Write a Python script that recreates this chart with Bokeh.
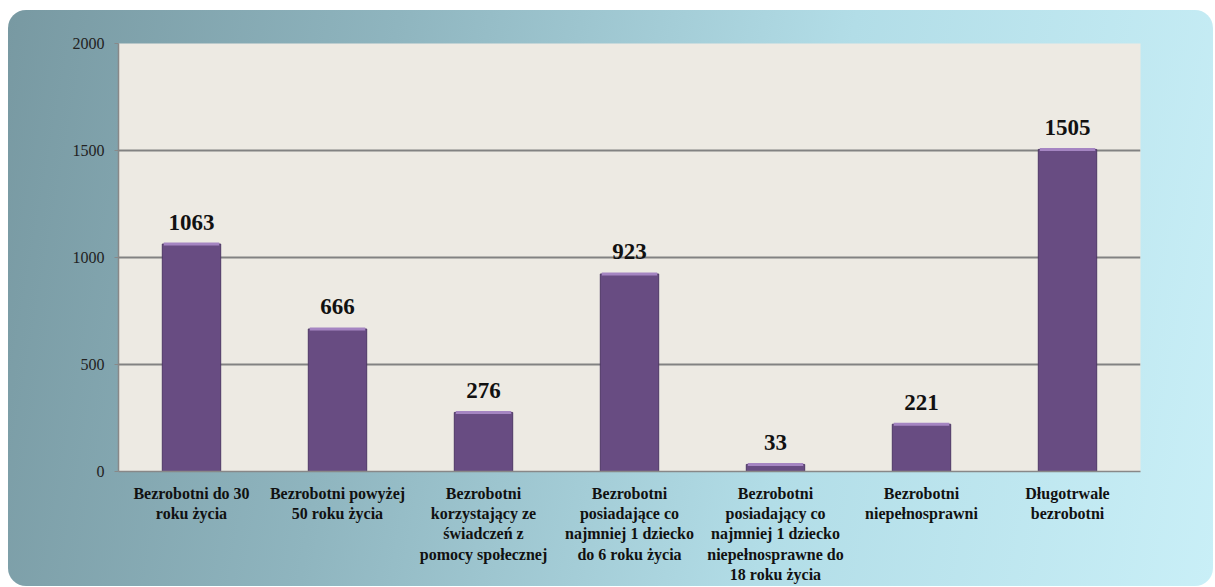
from bokeh.plotting import figure
from bokeh.models import ColumnDataSource, Range1d, FixedTicker
from bokeh.core.properties import value
from bokeh.embed import file_html
from bokeh.resources import INLINE

categories = [
    "Bezrobotni do 30\nroku życia",
    "Bezrobotni powyżej\n50 roku życia",
    "Bezrobotni\nkorzystający ze\nświadczeń z\npomocy społecznej",
    "Bezrobotni\nposiadające co\nnajmniej 1 dziecko\ndo 6 roku życia",
    "Bezrobotni\nposiadający co\nnajmniej 1 dziecko\nniepełnosprawne do\n18 roku życia",
    "Bezrobotni\nniepełnosprawni",
    "Długotrwale\nbezrobotni",
]
values = [1063, 666, 276, 923, 33, 221, 1505]
y_ticks = [0, 500, 1000, 1500, 2000]

src = ColumnDataSource(dict(cat=categories, val=values, lab=[str(v) for v in values]))

p = figure(
    x_range=categories, y_range=Range1d(0, 2000),
    width=1205, height=576, output_backend="svg", toolbar_location=None,
    min_border_left=110, min_border_right=73, min_border_top=33, min_border_bottom=115,
)
p.margin = (10, 0, 0, 8)
p.styles = {
    "background": "linear-gradient(100deg, #7899a2 0%, #8fb5bf 30%, #b2dde7 65%, #c9eff7 100%)",
    "border-radius": "18px",
}
p.border_fill_color = None
p.background_fill_color = "#edeae3"
p.outline_line_color = None

p.vbar(x="cat", top="val", width=0.4, source=src,
       fill_color="#684c82", line_color="#4e3866", line_width=1)
p.vbar(x="cat", top="val", bottom="val", width=0.38, source=src,
       fill_color=None, line_color="#a585c2", line_width=3)

p.text(x="cat", y="val", text="lab", source=src,
       text_font=value("Liberation Serif"), text_font_size="23px", text_font_style="bold",
       text_align="center", text_baseline="alphabetic", y_offset=-22, text_color="#111111")

p.yaxis.ticker = FixedTicker(ticks=y_ticks)
p.yaxis.axis_line_color = "#888888"
p.yaxis.axis_line_width = 1.5
p.yaxis.major_tick_line_color = "#888888"
p.yaxis.major_tick_out = 4
p.yaxis.major_tick_in = 0
p.yaxis.minor_tick_line_color = None
p.yaxis.major_label_text_font = "Liberation Serif"
p.yaxis.major_label_text_font_size = "16px"
p.yaxis.major_label_text_color = "#222222"
p.yaxis.major_label_standoff = 10

p.xaxis.axis_line_color = "#888888"
p.xaxis.axis_line_width = 1.5
p.xaxis.major_tick_line_color = None
p.xaxis.major_label_text_font = "Liberation Serif"
p.xaxis.major_label_text_font_size = "16px"
p.xaxis.major_label_text_font_style = "bold"
p.xaxis.major_label_text_color = "#111111"
p.xaxis.major_label_standoff = 7

p.xgrid.grid_line_color = None
p.ygrid.grid_line_color = "#828282"
p.ygrid.grid_line_width = 2

open("out.html", "w").write(file_html(p, INLINE))
